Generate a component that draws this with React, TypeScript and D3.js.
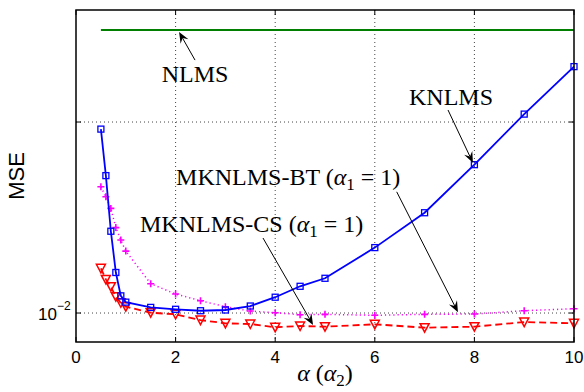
import React from "react";
import * as d3 from "d3";

// alpha (alpha_2) values where each curve was sampled
const alphas = [0.5, 0.6, 0.7, 0.8, 0.9, 1, 1.5, 2, 2.5, 3, 3.5, 4, 4.5, 5, 6, 7, 8, 9, 10];

const knlms = [0.0918, 0.0524, 0.0268, 0.0163, 0.0123, 0.0114, 0.0107, 0.01046, 0.01028, 0.01037,
  0.01088, 0.0121, 0.0138, 0.0152, 0.022, 0.0335, 0.0598, 0.11, 0.195];
const mknlmsBT = [0.0458, 0.0406, 0.0353, 0.028, 0.0241, 0.0211, 0.01424, 0.01257, 0.0116, 0.01079,
  0.01024, 0.01004, 0.0098, 0.00984, 0.00973, 0.00984, 0.00988, 0.01028, 0.01053];
const mknlmsCS = [0.01714, 0.015, 0.01373, 0.01217, 0.01132, 0.01079, 0.01004, 0.00984, 0.00919, 0.00883,
  0.00876, 0.00842, 0.00855, 0.00848, 0.00873, 0.00838, 0.00848, 0.00897, 0.00883];
const nlmsX = [0.5, 10];
const nlmsY = [0.3034, 0.3034];

const xTicks = [0, 2, 4, 6, 8, 10];
const yTicks = [0.01, 0.1];

// annotation text + arrow (tail -> head), in data units
const notes = [
  { label: "NLMS", sub: "", tx: 2.39, ty: 0.162, anchor: "middle", from: [2.39, 0.211], to: [2.07, 0.296] },
  { label: "KNLMS", sub: "", tx: 7.53, ty: 0.1227, anchor: "middle", from: [7.47, 0.1156], to: [7.97, 0.0612] },
  { label: "MKNLMS-BT (", sub: "1", tx: 2.01, ty: 0.0468, anchor: "start", from: [6.44, 0.0431], to: [7.67, 0.0101] },
  { label: "MKNLMS-CS (", sub: "1", tx: 1.285, ty: 0.02655, anchor: "start", from: [3.755, 0.0247], to: [4.76, 0.00866] },
];

const W = 584, H = 392;
const left = 76, right = 574, top = 10, bottom = 342;

const serif = "'Liberation Serif', 'Times New Roman', serif";
const sans = "'Liberation Sans', Arial, Helvetica, sans-serif";

function Arrow({ x1, y1, x2, y2 }: { x1: number; y1: number; x2: number; y2: number }) {
  const a = Math.atan2(y2 - y1, x2 - x1);
  const len = 11, half = 4.5, notch = 7;
  const bx = x2 - len * Math.cos(a), by = y2 - len * Math.sin(a);
  const nx = x2 - notch * Math.cos(a), ny = y2 - notch * Math.sin(a);
  const px = -Math.sin(a) * half, py = Math.cos(a) * half;
  const pts = [[x2, y2], [bx + px, by + py], [nx, ny], [bx - px, by - py]];
  return (
    <g>
      <line x1={x1} y1={y1} x2={nx} y2={ny} stroke="#000" strokeWidth={1} />
      <polygon points={pts.map(p => p.join(",")).join(" ")} fill="#000" />
    </g>
  );
}

export default function App() {
  const x = d3.scaleLinear().domain([0, 10]).range([left, right]);
  const y = d3.scaleLog().domain([0.007051, 0.3859]).range([bottom, top]);

  const line = d3.line<number>().x((_, i) => x(alphas[i])).y(d => y(d));
  const nlmsLine = d3.line<number>().x((_, i) => x(nlmsX[i])).y(d => y(d));

  return (
    <svg width={W} height={H} style={{ position: "absolute", left: 0, top: 0, background: "#fff" }}>
      <rect width={W} height={H} fill="#fff" />
      {/* grid */}
      {xTicks.slice(1, -1).map(t => (
        <line key={"gx" + t} x1={x(t)} x2={x(t)} y1={top} y2={bottom} stroke="#444" strokeWidth={1} strokeDasharray="1,3" />
      ))}
      {yTicks.map(t => (
        <line key={"gy" + t} x1={left} x2={right} y1={y(t)} y2={y(t)} stroke="#444" strokeWidth={1} strokeDasharray="1,3" />
      ))}

      {/* NLMS */}
      <path d={nlmsLine(nlmsY) || ""} fill="none" stroke="#007f00" strokeWidth={2} />

      {/* MKNLMS-BT: magenta dotted, plus markers */}
      <path d={line(mknlmsBT) || ""} fill="none" stroke="#ff00ff" strokeWidth={1.5} strokeDasharray="1.2,3" />
      {mknlmsBT.map((v, i) => (
        <path key={"p" + i} d={`M${x(alphas[i]) - 3.5},${y(v)}h7M${x(alphas[i])},${y(v) - 3.5}v7`} stroke="#ff00ff" strokeWidth={1.6} />
      ))}

      {/* MKNLMS-CS: red dashed, down triangles */}
      <path d={line(mknlmsCS) || ""} fill="none" stroke="#ff0000" strokeWidth={1.8} strokeDasharray="7,4" />
      {mknlmsCS.map((v, i) => {
        const cx = x(alphas[i]), cy = y(v);
        return <path key={"t" + i} d={`M${cx - 4.5},${cy - 4}L${cx + 4.5},${cy - 4}L${cx},${cy + 4.5}Z`} fill="none" stroke="#ff0000" strokeWidth={1.5} />;
      })}

      {/* KNLMS: blue solid, squares */}
      <path d={line(knlms) || ""} fill="none" stroke="#0000ff" strokeWidth={1.8} />
      {knlms.map((v, i) => (
        <rect key={"s" + i} x={x(alphas[i]) - 3} y={y(v) - 3} width={6} height={6} fill="none" stroke="#0000ff" strokeWidth={1.3} />
      ))}

      {/* axes box */}
      <rect x={left} y={top} width={right - left} height={bottom - top} fill="none" stroke="#000" strokeWidth={1.5} />
      {xTicks.map(t => (
        <g key={"tx" + t}>
          <line x1={x(t)} x2={x(t)} y1={bottom} y2={bottom - 5} stroke="#000" />
          <line x1={x(t)} x2={x(t)} y1={top} y2={top + 5} stroke="#000" />
          <text x={x(t)} y={363} textAnchor="middle" fontFamily={sans} fontSize={17}>{t}</text>
        </g>
      ))}
      {yTicks.map(t => (
        <g key={"ty" + t}>
          <line x1={left} x2={left + 5} y1={y(t)} y2={y(t)} stroke="#000" />
          <line x1={right} x2={right - 5} y1={y(t)} y2={y(t)} stroke="#000" />
        </g>
      ))}
      <text x={57} y={y(0.01) + 7} textAnchor="end" fontFamily={sans} fontSize={17}>10</text>
      <text x={57} y={y(0.01) - 3} fontFamily={sans} fontSize={12}>−2</text>

      {/* labels */}
      <text transform={`translate(24,${(top + bottom) / 2}) rotate(-90)`} textAnchor="middle" fontFamily={sans} fontSize={22}>MSE</text>
      <text x={(left + right) / 2} y={381} textAnchor="middle" fontFamily={serif} fontSize={24}>
        <tspan fontStyle="italic">α</tspan>{"\u00a0("}<tspan fontStyle="italic">α</tspan>
        <tspan fontSize={17} dy={5}>2</tspan><tspan dy={-5}>)</tspan>
      </text>

      {/* annotations */}
      {notes.map(n => (
        <g key={n.label}>
          <text x={x(n.tx)} y={y(n.ty)} textAnchor={n.anchor as any} fontFamily={serif} fontSize={24}>
            {n.label}
            {n.sub && (
              <>
                <tspan fontStyle="italic">α</tspan>
                <tspan fontSize={17} dy={5}>{n.sub}</tspan>
                <tspan dy={-5}>{"\u00a0=\u00a01)"}</tspan>
              </>
            )}
          </text>
          <Arrow x1={x(n.from[0])} y1={y(n.from[1])} x2={x(n.to[0])} y2={y(n.to[1])} />
        </g>
      ))}
    </svg>
  );
}
